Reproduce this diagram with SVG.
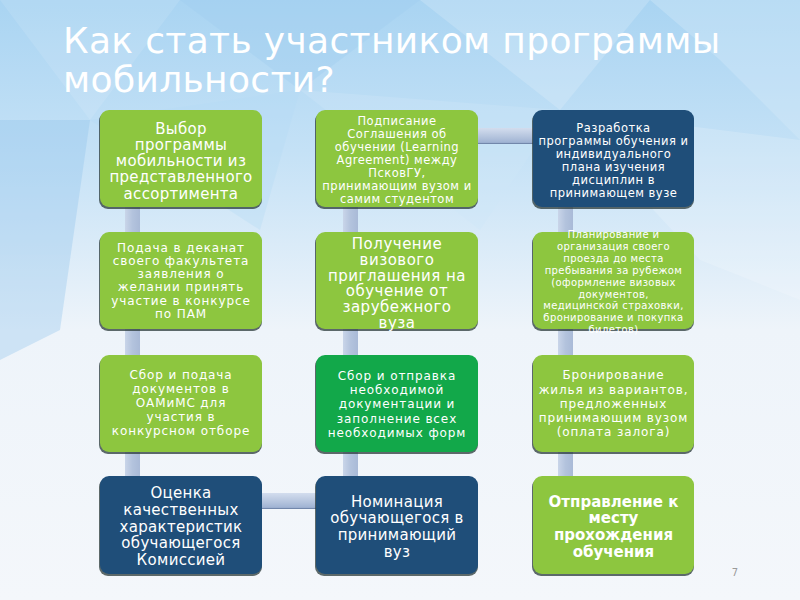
<svg xmlns="http://www.w3.org/2000/svg" width="800" height="600" viewBox="0 0 800 600">
<defs>
<linearGradient id="bg" x1="0" y1="0" x2="0" y2="1">
<stop offset="0" stop-color="#a9d4f2"/>
<stop offset="0.25" stop-color="#c4e1f6"/>
<stop offset="0.55" stop-color="#eef4fa"/>
<stop offset="1" stop-color="#f4f7fb"/>
</linearGradient>
<linearGradient id="vbar" x1="0" y1="0" x2="1" y2="0">
<stop offset="0" stop-color="#c9d5e9"/>
<stop offset="0.5" stop-color="#b3c3dd"/>
<stop offset="1" stop-color="#a9bad7"/>
</linearGradient>
<linearGradient id="hbar" x1="0" y1="0" x2="0" y2="1">
<stop offset="0" stop-color="#d3ddee"/>
<stop offset="0.6" stop-color="#b2c2dc"/>
<stop offset="0.9" stop-color="#a0b3d3"/>
<stop offset="1" stop-color="#5d7399"/>
</linearGradient>
<style>
.lg{fill:#8dc63f}
.dg{fill:#12a84a}
.db{fill:#1f4e79}
.sh{fill:#2a3a3a;opacity:0.75}
text{font-family:"DejaVu Sans","Liberation Sans",sans-serif;fill:#ffffff;text-anchor:middle}
.t15{font-size:15px;letter-spacing:0.3px}
.t15w{font-size:15px;letter-spacing:0.5px}
.t12{font-size:12px;letter-spacing:0.9px}
.t115{font-size:11.5px;letter-spacing:0.5px}
.t10{font-size:10px;letter-spacing:0.4px}
.tb{font-size:15px;font-weight:bold}
.title{font-size:36px;letter-spacing:0.35px;text-anchor:start}
</style>
</defs>
<rect width="800" height="600" fill="url(#bg)"/>
<g opacity="0.35">
<polygon points="0,0 180,0 90,120" fill="#ffffff" opacity="0.3"/>
<polygon points="180,0 420,0 300,90" fill="#9fcdf0"/>
<polygon points="420,0 650,0 560,110" fill="#ffffff" opacity="0.5"/>
<polygon points="650,0 800,0 800,140 720,60" fill="#d8ecfa"/>
<polygon points="0,120 90,120 60,330 0,360" fill="#8fc3ec"/>
<polygon points="560,110 800,140 800,300 700,260" fill="#ffffff" opacity="0.5"/>
<polygon points="90,120 300,90 260,230" fill="#b5dbf5"/>
<polygon points="300,90 560,110 480,230" fill="#cfe7f8"/>
</g>
<g id="title">
<text class="title" x="63" y="53">Как стать участником программы</text>
<text class="title" x="63" y="92">мобильности?</text>
</g>
<g id="connectors">
<rect x="125" y="200" width="15" height="283" fill="url(#vbar)"/>
<rect x="343" y="200" width="15" height="283" fill="url(#vbar)"/>
<rect x="558" y="200" width="15" height="283" fill="url(#vbar)"/>
<rect x="470" y="128" width="70" height="16" fill="url(#hbar)"/>
<rect x="255" y="493" width="68" height="16" fill="url(#hbar)"/>
</g>
<g id="n1">
<rect class="sh" x="99" y="112" width="163" height="97" rx="9"/>
<rect class="lg" x="100" y="110" width="162" height="97" rx="9"/>
<text class="t15"><tspan x="181" y="133.5">Выбор</tspan><tspan x="181" y="149.7">программы</tspan><tspan x="181" y="166">мобильности из</tspan><tspan x="181" y="182.3">представленного</tspan><tspan x="181" y="198.5">ассортимента</tspan></text>
</g>
<g id="n2">
<rect class="sh" x="99" y="234" width="163" height="97" rx="9"/>
<rect class="lg" x="100" y="232" width="162" height="97" rx="9"/>
<text class="t12"><tspan x="181" y="251.5">Подача в деканат</tspan><tspan x="181" y="264.8">своего факультета</tspan><tspan x="181" y="278.1">заявления о</tspan><tspan x="181" y="291.4">желании принять</tspan><tspan x="181" y="304.7">участие в конкурсе</tspan><tspan x="181" y="318">по ПАМ</tspan></text>
</g>
<g id="n3">
<rect class="sh" x="99" y="357" width="163" height="97" rx="9"/>
<rect class="lg" x="100" y="355" width="162" height="97" rx="9"/>
<text class="t12"><tspan x="181" y="379.3">Сбор и подача</tspan><tspan x="181" y="393.2">документов в</tspan><tspan x="181" y="407.1">ОАМиМС для</tspan><tspan x="181" y="421">участия в</tspan><tspan x="181" y="435">конкурсном отборе</tspan></text>
</g>
<g id="n4">
<rect class="sh" x="99" y="478" width="163" height="98" rx="9"/>
<rect class="db" x="100" y="476" width="162" height="98" rx="9"/>
<text class="t15"><tspan x="181" y="498.3">Оценка</tspan><tspan x="181" y="515">качественных</tspan><tspan x="181" y="531.7">характеристик</tspan><tspan x="181" y="548.3">обучающегося</tspan><tspan x="181" y="565">Комиссией</tspan></text>
</g>
<g id="n5">
<rect class="sh" x="315" y="478" width="163" height="98" rx="9"/>
<rect class="db" x="316" y="476" width="162" height="98" rx="9"/>
<text class="t15"><tspan x="397" y="506.7">Номинация</tspan><tspan x="397" y="523.4">обучающегося в</tspan><tspan x="397" y="540">принимающий</tspan><tspan x="397" y="556.7">вуз</tspan></text>
</g>
<g id="n6">
<rect class="sh" x="315" y="357" width="163" height="97" rx="9"/>
<rect class="dg" x="316" y="355" width="162" height="97" rx="9"/>
<text class="t12"><tspan x="397" y="380">Сбор и отправка</tspan><tspan x="397" y="394.2">необходимой</tspan><tspan x="397" y="408.4">документации и</tspan><tspan x="397" y="422.6">заполнение всех</tspan><tspan x="397" y="436.8">необходимых форм</tspan></text>
</g>
<g id="n7">
<rect class="sh" x="315" y="234" width="163" height="97" rx="9"/>
<rect class="lg" x="316" y="232" width="162" height="97" rx="9"/>
<text class="t15w"><tspan x="397" y="249">Получение</tspan><tspan x="397" y="264.8">визового</tspan><tspan x="397" y="280.6">приглашения на</tspan><tspan x="397" y="296.4">обучение от</tspan><tspan x="397" y="312.2">зарубежного</tspan><tspan x="397" y="328">вуза</tspan></text>
</g>
<g id="n8">
<rect class="sh" x="315" y="112" width="163" height="97" rx="9"/>
<rect class="lg" x="316" y="110" width="162" height="97" rx="9"/>
<text class="t115"><tspan x="397" y="125">Подписание</tspan><tspan x="397" y="138">Соглашения об</tspan><tspan x="397" y="151">обучении (Learning</tspan><tspan x="397" y="164">Agreement) между</tspan><tspan x="397" y="177">ПсковГУ,</tspan><tspan x="397" y="190">принимающим вузом и</tspan><tspan x="397" y="203">самим студентом</tspan></text>
</g>
<g id="n9">
<rect class="sh" x="532" y="112" width="162" height="97" rx="9"/>
<rect class="db" x="533" y="110" width="161" height="97" rx="9"/>
<text class="t115"><tspan x="613.5" y="131.7">Разработка</tspan><tspan x="613.5" y="144.7">программы обучения и</tspan><tspan x="613.5" y="157.7">индивидуального</tspan><tspan x="613.5" y="170.7">плана изучения</tspan><tspan x="613.5" y="183.7">дисциплин в</tspan><tspan x="613.5" y="196.7">принимающем вузе</tspan></text>
</g>
<g id="n10">
<rect class="sh" x="532" y="234" width="162" height="97" rx="9"/>
<rect class="lg" x="533" y="232" width="161" height="97" rx="9"/>
<text class="t10"><tspan x="613.5" y="238">Планирование и</tspan><tspan x="613.5" y="249.9">организация своего</tspan><tspan x="613.5" y="261.8">проезда до места</tspan><tspan x="613.5" y="273.7">пребывания за рубежом</tspan><tspan x="613.5" y="285.6">(оформление визовых</tspan><tspan x="613.5" y="297.5">документов,</tspan><tspan x="613.5" y="309.4">медицинской страховки,</tspan><tspan x="613.5" y="321.3">бронирование и покупка</tspan><tspan x="613.5" y="333.2">билетов)</tspan></text>
</g>
<g id="n11">
<rect class="sh" x="532" y="357" width="162" height="97" rx="9"/>
<rect class="lg" x="533" y="355" width="161" height="97" rx="9"/>
<text class="t12"><tspan x="613.5" y="379.3">Бронирование</tspan><tspan x="613.5" y="393.5">жилья из вариантов,</tspan><tspan x="613.5" y="407.7">предложенных</tspan><tspan x="613.5" y="421.9">принимающим вузом</tspan><tspan x="613.5" y="436">(оплата залога)</tspan></text>
</g>
<g id="n12">
<rect class="sh" x="532" y="478" width="162" height="98" rx="9"/>
<rect class="lg" x="533" y="476" width="161" height="98" rx="9"/>
<text class="tb"><tspan x="613.5" y="506.7">Отправление к</tspan><tspan x="613.5" y="523.4">месту</tspan><tspan x="613.5" y="540">прохождения</tspan><tspan x="613.5" y="556.7">обучения</tspan></text>
</g>
<text x="735" y="576" style="font-size:10px;fill:#9a9a9a">7</text>
</svg>
